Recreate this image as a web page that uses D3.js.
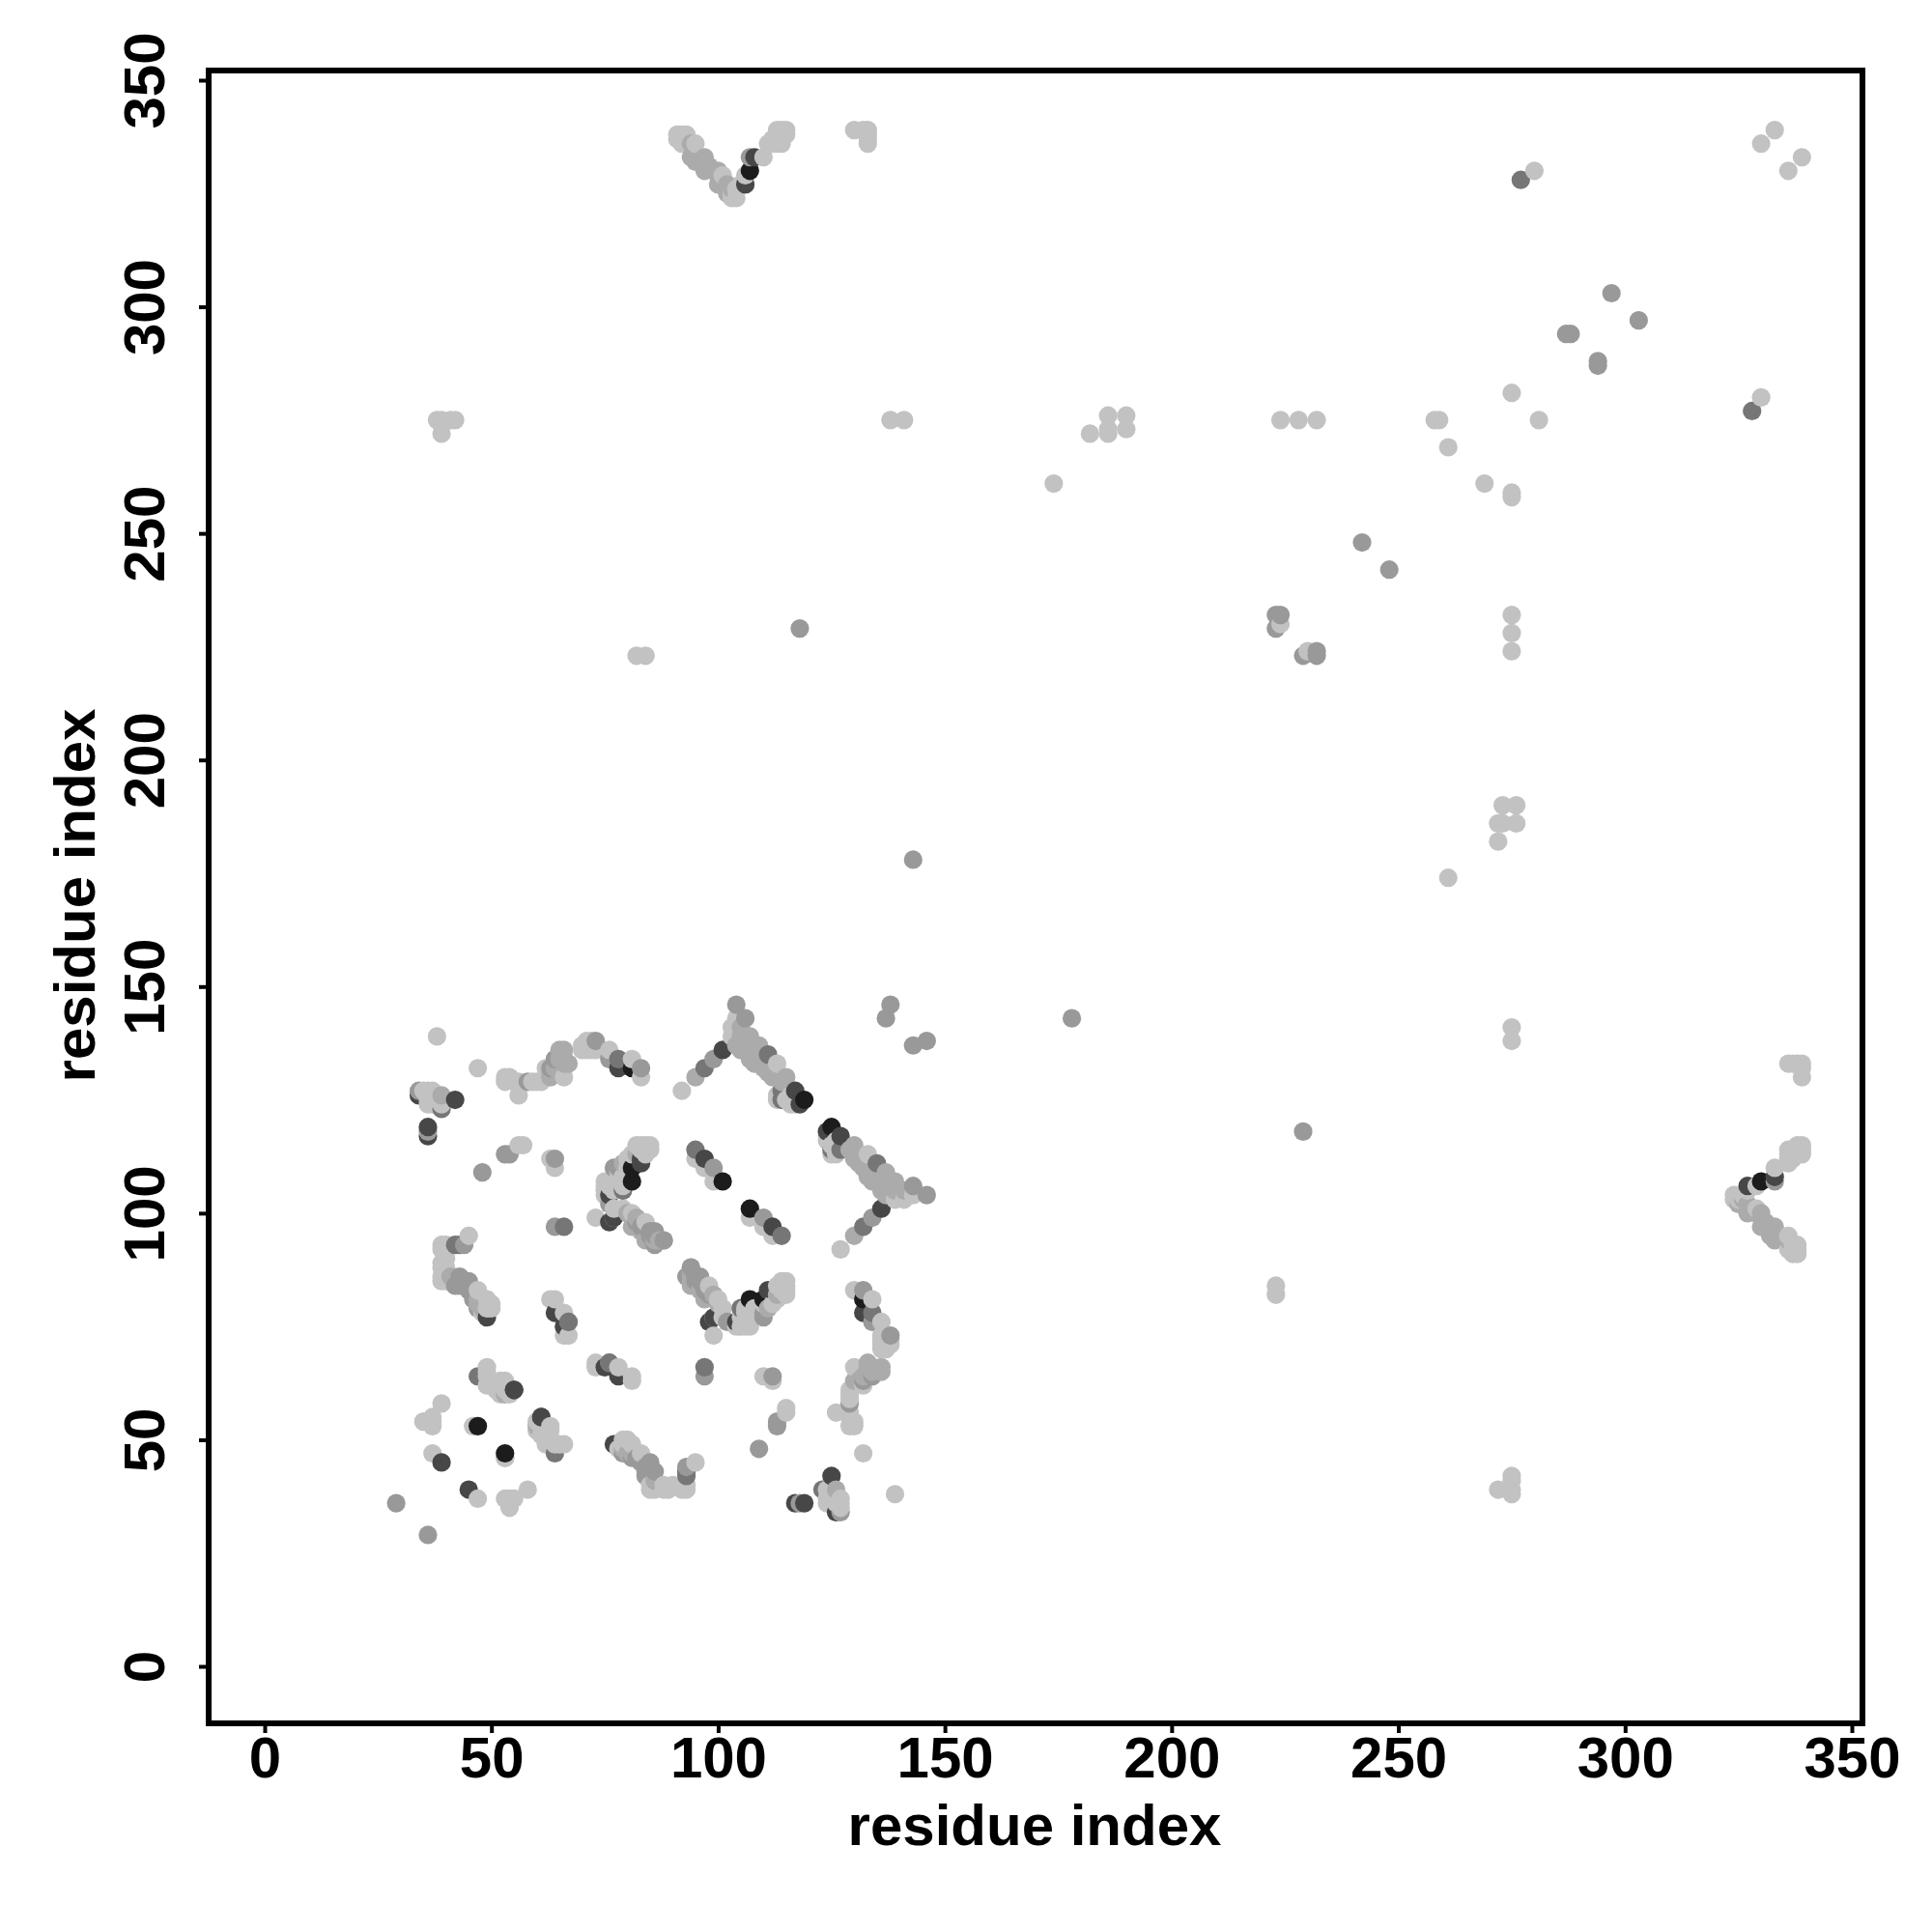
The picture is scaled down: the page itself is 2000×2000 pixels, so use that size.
<!DOCTYPE html>
<html><head><meta charset="utf-8">
<script src="https://cdn.jsdelivr.net/npm/d3@7"></script>
<style>html,body{margin:0;background:#fff}</style></head>
<body><div id="chart"></div>
<script>
const tickValues=[0,50,100,150,200,250,300,350];
const axisLabel="residue index";
// contacts are [i,j] with i<j; the map is symmetric, each is shown at (i,j) and (j,i)
const contactsLight=[[91,338],[92,338],[93,338],[93,337],[92,336],[91,337],[95,336],[101,329],[103,325],[104,324],[103,324],[104,326],[105,327],[106,329],[110,333],[111,336],[112,337],[112,336],[113,336],[113,338],[113,339],[114,339],[115,339],[115,338],[114,338],[114,337],[114,336],
[130,339],[132,339],[133,339],[133,338],[133,337],[133,336],
[280,330],[330,336],[333,339],[275,281],[261,269],[258,275],[259,275],[174,261],[224,230],[224,275],[228,275],[232,275],[182,272],[186,272],[186,273],[186,276],[190,273],[190,276],[138,275],[141,275],[82,223],[84,223],[38,275],[39,275],[41,275],[42,275],[39,272],
[47,132],[38,139],[35,127],[36,124],[36,125],[36,126],[36,127],[37,127],[37,124],[38,125],[39,124],
[53,130],[53,129],[54,130],[55,129],[56,126],[56,129],[59,129],[60,129],[61,129],[62,130],[62,132],[66,130],[70,136],[70,137],[71,136],[71,138],[72,138],[72,136],[73,136],[76,136],[81,134],[83,130],
[56,115],[57,115],[63,112],[64,110],[73,99],[75,104],[75,106],[76,106],[77,105],[78,107],[78,109],[79,108],[79,105],[80,112],[81,113],[83,115],[85,115],[85,114],[84,113],[82,115],[84,115],[80,110],
[77,101],[79,101],[84,98],[77,99],[75,105],[75,107],[81,100],[79,106],[83,114],[78,106],
[95,112],[97,110],[99,107],[92,127],[104,143],[103,141],[103,139],[113,133],[113,126],[113,125],[115,125],[116,124],[117,124],[116,126],
[39,93],[40,93],[39,92],[40,90],[39,89],[39,88],[40,88],[39,86],[39,85],[40,85],[40,86],[45,95],[47,83],[48,78],[49,79],[49,81],[50,79],[50,80],
[63,81],[64,81],[66,78],[66,73],[67,73],[35,54],[37,53],[37,54],[37,55],[39,58],[46,53],[37,47],[53,46],
[49,66],[49,65],[49,64],[49,62],[51,61],[51,62],[52,63],[53,61],[53,63],[54,60],[52,60]];
const contactsMidLight=[[94,336],[94,333],[95,332],[96,332],[97,333],[97,331],[97,330],[98,331],[99,330],[100,329],[100,330],[102,327],[100,327],[101,328],[103,326],[102,325],
[39,126],[63,130],[63,131],[64,132],[66,133],[66,134],[66,136],[67,133],[65,136],[65,134],
[86,94],[88,94],[87,94],[85,94],[84,94],[80,100],[79,111],[82,113],[82,99],[83,96],[81,97],
[95,130],[105,141],[105,139],[107,139],[104,137],[105,136],[107,136],[107,134],[109,137],[109,134],[108,133],[110,132],[112,130],[111,131],[113,130],[115,130],[114,129],
[41,86],[47,80],[48,79],[47,81],[53,60]];
const contactsMid=[[107,333],[297,303],[287,294],[288,294],[242,248],[223,232],[224,232],[223,229],[143,178],[118,229],[29,36],[137,143],[138,146],
[34,127],[36,118],[58,129],[63,132],[64,134],[73,138],[76,134],[83,132],[48,109],[53,113],[54,113],[64,112],[64,97],
[77,110],[78,110],[76,102],[82,98],[83,97],[85,96],[85,95],[86,95],[84,97],[86,93],[86,96],[88,94],[99,110],[99,134],[104,146],[106,143],
[44,93],[43,86],[44,85],[45,85],[42,84],[43,84],[44,84],[45,83],[46,81],[46,82],[47,79],[67,76]];
const contactsMidDark=[[277,328],[39,123],[78,134],[66,97],[79,105],[95,114],[97,132],[111,135],[114,125],[114,127],[42,93],[43,93],[47,64],[76,67]];
const contactsDark=[[106,327],[108,333],[34,126],[36,117],[36,119],[42,125],[78,132],[76,104],[76,98],[77,99],[83,112],[83,111],[97,112],[117,127],[118,124],[101,136],
[49,77],[64,78],[66,75],[39,45],[55,61],[61,55]];
const contactsBlack=[[107,330],[81,132],[81,107],[81,110],[101,107],[119,125],[47,53]];
const shadeNames=["#c2c2c2","#ababab","#999999","#767676","#474747","#1c1c1c"];
const shadeGroups=[contactsLight,contactsMidLight,contactsMid,contactsMidDark,contactsDark,contactsBlack];

const svg=d3.select("#chart").append("svg").attr("width",2000).attr("height",2000).style("display","block");
const x=d3.scaleLinear().domain([0,350]).range([274,1917]);
const y=d3.scaleLinear().domain([0,350]).range([1725,83]);
const box={l:216,r:1928,t:73,b:1784};
const font='"Liberation Sans",Arial,sans-serif';

const rows=[];
shadeGroups.forEach((g,s)=>g.forEach(([i,j])=>{rows.push({x:i,y:j,c:shadeNames[s]});rows.push({x:j,y:i,c:shadeNames[s]});}));
rows.sort((a,b)=>d3.ascending(a.x,b.x)||d3.ascending(a.y,b.y));

svg.append("g").selectAll("circle").data(rows).join("circle")
 .attr("cx",d=>x(d.x)).attr("cy",d=>y(d.y)).attr("r",9.6).attr("fill",d=>d.c);

svg.append("rect").attr("x",box.l).attr("y",box.t).attr("width",box.r-box.l).attr("height",box.b-box.t)
 .attr("fill","none").attr("stroke","#000").attr("stroke-width",6);

const ax=svg.append("g").attr("transform",`translate(0,${box.b+3})`)
 .call(d3.axisBottom(x).tickValues(tickValues).tickSize(7).tickFormat(d3.format("d")));
const ay=svg.append("g").attr("transform",`translate(${box.l-3},0)`)
 .call(d3.axisLeft(y).tickValues(tickValues).tickSize(7).tickFormat(d3.format("d")));
[ax,ay].forEach(a=>{a.select(".domain").remove();
 a.selectAll("line").attr("stroke","#000").attr("stroke-width",4);
 a.selectAll("text").attr("fill","#000").style("font",`bold 60px ${font}`);});
ax.selectAll("text").attr("dy",null).attr("y",1840-box.b-3).attr("text-anchor","middle");
ay.selectAll("text").attr("dy",0).attr("x",null).attr("y",null).attr("text-anchor","middle")
 .attr("transform",`translate(${170-box.l+3},0) rotate(-90)`);

svg.append("text").attr("x",1071).attr("y",1910).attr("text-anchor","middle").attr("fill","#000")
 .style("font",`bold 60px ${font}`).text(axisLabel);
svg.append("text").attr("transform","translate(98,927) rotate(-90)").attr("text-anchor","middle").attr("fill","#000")
 .style("font",`bold 60px ${font}`).text(axisLabel);
</script></body></html>
